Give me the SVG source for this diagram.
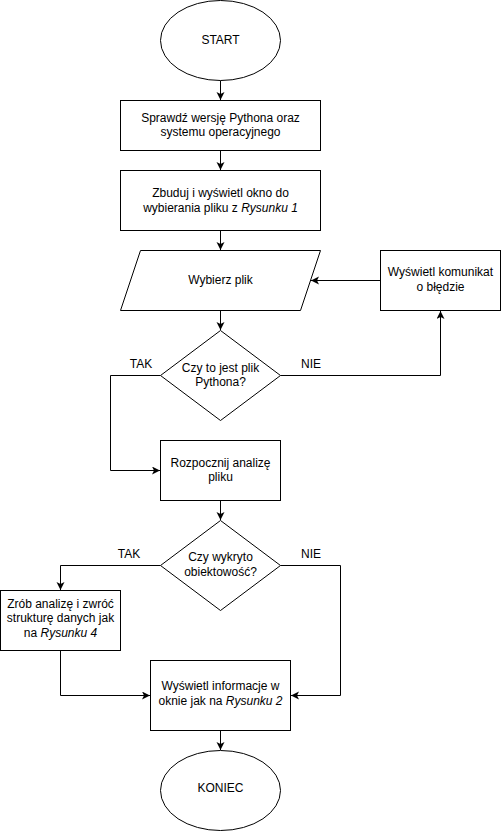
<svg xmlns="http://www.w3.org/2000/svg" width="501" height="831" viewBox="0 0 501 831">
<style>
.s{fill:#fff;stroke:#000;stroke-width:1}
.e{fill:none;stroke:#000;stroke-width:1}
text{font-family:"Liberation Sans",Arial,Helvetica,sans-serif;font-size:12px;fill:#000;text-anchor:middle}
.i{font-style:italic}
</style>
<defs>
<marker id="a" markerUnits="userSpaceOnUse" markerWidth="10" markerHeight="10" refX="8" refY="4" orient="auto">
<path d="M0,0 L8,4 L0,8 L2,4 Z" fill="#000"/>
</marker>
</defs>
<rect width="501" height="831" fill="#fff"/>
<g id="edges">
<path class="e" d="M220.5,80.5 V100" marker-end="url(#a)"/>
<path class="e" d="M220.5,150.5 V170" marker-end="url(#a)"/>
<path class="e" d="M220.5,230.5 V250" marker-end="url(#a)"/>
<path class="e" d="M220.5,310.5 V330" marker-end="url(#a)"/>
<path class="e" d="M380.5,280.5 H311" marker-end="url(#a)"/>
<path class="e" d="M280.5,375.5 H440.5 V311" marker-end="url(#a)"/>
<path class="e" d="M160.5,375.5 H110.5 V470.5 H160" marker-end="url(#a)"/>
<path class="e" d="M220.5,500.5 V520" marker-end="url(#a)"/>
<path class="e" d="M160.5,565.5 H60.5 V590" marker-end="url(#a)"/>
<path class="e" d="M280.5,565.5 H340.5 V695.5 H291" marker-end="url(#a)"/>
<path class="e" d="M60.5,650.5 V695.5 H150" marker-end="url(#a)"/>
<path class="e" d="M220.5,730.5 V750" marker-end="url(#a)"/>
<text x="141" y="368">TAK</text>
<text x="311" y="368">NIE</text>
<text x="129" y="557.5">TAK</text>
<text x="311" y="557.5">NIE</text>
</g>
<g id="start">
<ellipse class="s" cx="220.5" cy="40.5" rx="60" ry="40"/>
<text x="220.5" y="44">START</text>
</g>
<g id="check">
<rect class="s" x="120.5" y="100.5" width="200" height="50"/>
<text x="220.5" y="121.5">Sprawdź wersję Pythona oraz</text>
<text x="220.5" y="136">systemu operacyjnego</text>
</g>
<g id="build">
<rect class="s" x="120.5" y="170.5" width="200" height="60"/>
<text x="220.5" y="197">Zbuduj i wyświetl okno do</text>
<text x="220.5" y="211.5">wybierania pliku z <tspan class="i">Rysunku 1</tspan></text>
</g>
<g id="choose">
<path class="s" d="M140.5,250.5 H320.5 L300.5,310.5 H120.5 Z"/>
<text x="220.5" y="284">Wybierz plik</text>
</g>
<g id="error">
<rect class="s" x="380.5" y="250.5" width="120" height="60"/>
<text x="440.5" y="276">Wyświetl komunikat</text>
<text x="440.5" y="291">o błędzie</text>
</g>
<g id="isPython">
<path class="s" d="M220.5,330.5 L280.5,375.5 L220.5,420.5 L160.5,375.5 Z"/>
<text x="220.5" y="371.5">Czy to jest plik</text>
<text x="220.5" y="386">Pythona?</text>
</g>
<g id="analyze">
<rect class="s" x="160.5" y="440.5" width="120" height="60"/>
<text x="220.5" y="466.5">Rozpocznij analizę</text>
<text x="220.5" y="481">pliku</text>
</g>
<g id="objective">
<path class="s" d="M220.5,520.5 L280.5,565.5 L220.5,610.5 L160.5,565.5 Z"/>
<text x="220.5" y="561">Czy wykryto</text>
<text x="220.5" y="575.5">obiektowość?</text>
</g>
<g id="structure">
<rect class="s" x="0.5" y="590.5" width="120" height="60"/>
<text x="60.5" y="607.5">Zrób analizę i zwróć</text>
<text x="60.5" y="622">strukturę danych jak</text>
<text x="60.5" y="636.5">na <tspan class="i">Rysunku 4</tspan></text>
</g>
<g id="display">
<rect class="s" x="150.5" y="660.5" width="140" height="70"/>
<text x="220.5" y="690">Wyświetl informacje w</text>
<text x="220.5" y="705">oknie jak na <tspan class="i">Rysunku 2</tspan></text>
</g>
<g id="end">
<ellipse class="s" cx="220.5" cy="790.5" rx="60" ry="40"/>
<text x="220.5" y="792">KONIEC</text>
</g>
</svg>
